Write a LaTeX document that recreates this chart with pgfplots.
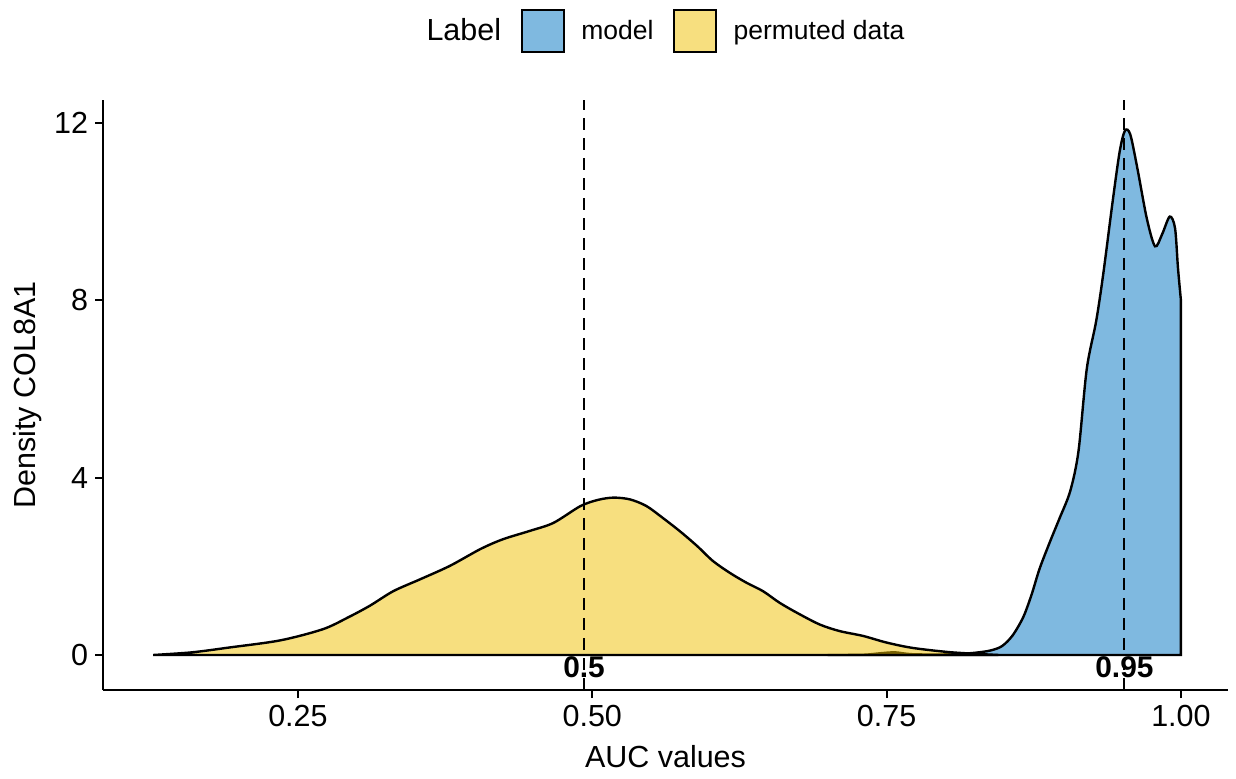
\documentclass[border=0pt]{standalone}
\usepackage{fontspec}
\setmainfont{Liberation Sans}
\usepackage{pgfplots}
\pgfplotsset{compat=1.18}
\definecolor{jcoblue}{HTML}{0073C2}
\definecolor{jcoyellow}{HTML}{EFC000}
\begin{document}
\begin{tikzpicture}
\begin{axis}[
  scale only axis, width=562.5bp, height=295bp,
  xmin=0.0844, xmax=1.040, ymin=-0.79, ymax=12.52,
  axis lines=left, axis line style={-, line width=1bp, black},
  tick align=outside, major tick length=4bp,
  tick style={black, line width=1bp},
  xtick={0.25,0.5,0.75,1}, xticklabels={0.25,0.50,0.75,1.00},
  ytick={0,4,8,12},
  /pgf/number format/assume math mode=true,
  ticklabel style={font=\fontsize{15.3}{18}\selectfont, black},
  label style={font=\fontsize{15.3}{18}\selectfont},
  xlabel={AUC values}, ylabel={Density COL8A1},
  xlabel style={at={(axis description cs:0.5,-0.1136)}, anchor=center},
  ylabel style={at={(axis description cs:-0.0667,0.5)}, anchor=center},
  legend style={at={(0.5,1.117)}, anchor=center, draw=none, fill=none,
    legend columns=3, font=\fontsize{13.3}{16}\selectfont,
    /tikz/every even column/.append style={column sep=8bp}},
  legend image code/.code={\draw[#1, draw=black, line width=1bp] (0bp,-10.5bp) rectangle (21bp,10.5bp); \path (27bp,0bp);},
]
\addlegendimage{empty legend}
\addlegendentry{\fontsize{15.3}{18}\selectfont Label}

\addplot[smooth, tension=0.5, fill=jcoblue, fill opacity=0.5, draw=black, line width=1.2bp] table {
x y
0.700 0.000
0.730 0.005
0.745 0.040
0.757 0.060
0.770 0.020
0.790 0.010
0.810 0.020
0.825 0.050
0.838 0.100
0.848 0.200
0.857 0.440
0.866 0.850
0.873 1.350
0.880 1.950
0.889 2.570
0.897 3.090
0.906 3.700
0.913 4.600
0.920 6.450
0.928 7.530
0.934 8.590
0.942 10.230
0.948 11.360
0.9525 11.830
0.957 11.740
0.963 10.980
0.971 9.850
0.978 9.220
0.984 9.490
0.9905 9.890
0.995 9.630
0.9975 8.730
1.000 8.000
} \closedcycle;
\addlegendentry{model}

\addplot[smooth, tension=0.5, fill=jcoyellow, fill opacity=0.5, draw=black, line width=1.2bp] table {
x y
0.127 0.000
0.160 0.060
0.192 0.170
0.235 0.330
0.271 0.580
0.292 0.840
0.311 1.110
0.331 1.440
0.354 1.710
0.379 2.010
0.405 2.390
0.424 2.610
0.447 2.800
0.467 2.980
0.490 3.360
0.505 3.500
0.518 3.550
0.532 3.510
0.546 3.360
0.560 3.090
0.5745 2.790
0.589 2.460
0.6025 2.120
0.617 1.850
0.631 1.630
0.645 1.440
0.659 1.180
0.674 0.950
0.693 0.690
0.710 0.540
0.730 0.430
0.750 0.280
0.772 0.160
0.801 0.070
0.823 0.030
0.845 0.000
} \closedcycle;
\addlegendentry{permuted data}

\addplot[forget plot, black, line width=1bp, dash pattern=on 6bp off 4bp] coordinates {(0.493,-0.79) (0.493,12.52)};
\addplot[forget plot, black, line width=1bp, dash pattern=on 6bp off 4bp] coordinates {(0.952,-0.79) (0.952,12.52)};
\node[font=\fontsize{15}{18}\selectfont\bfseries, anchor=center] at (axis cs:0.493,-0.27) {0.5};
\node[font=\fontsize{15}{18}\selectfont\bfseries, anchor=center] at (axis cs:0.952,-0.27) {0.95};

\coordinate (pSW) at (rel axis cs:0,0);
\coordinate (pNE) at (rel axis cs:1,1);
\end{axis}
\pgfresetboundingbox
\useasboundingbox ([xshift=-51.5bp,yshift=-44bp]pSW) rectangle ([xshift=4bp,yshift=50bp]pNE);
\end{tikzpicture}
\end{document}
